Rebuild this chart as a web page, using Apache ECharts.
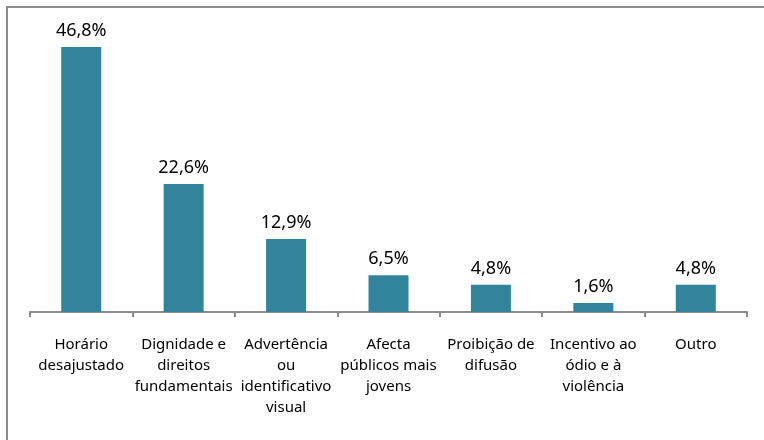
<!DOCTYPE html>
<html>
<head>
<meta charset="utf-8">
<script src="https://cdn.jsdelivr.net/npm/echarts@6/dist/echarts.min.js"></script>
<style>
  html, body { margin: 0; padding: 0; background: #fff; }
  #chart { width: 764px; height: 440px; }
</style>
</head>
<body>
<div id="chart"></div>
<script>
// categorias (quebras de linha como no original)
var categories = [
    'Horário\ndesajustado',
    'Dignidade e\ndireitos\nfundamentais',
    'Advertência\nou\nidentificativo\nvisual',
    'Afecta\npúblicos mais\njovens',
    'Proibição de\ndifusão',
    'Incentivo ao\nódio e à\nviolência',
    'Outro'
];
var values = [46.8, 22.6, 12.9, 6.5, 4.8, 1.6, 4.8];

var myChart = echarts.init(document.getElementById('chart'));
var option = {
    animation: false,
    graphic: [
        {
            type: 'rect',
            shape: { x: 7, y: 7, width: 800, height: 500 },
            style: { fill: 'none', stroke: '#8c8c8c', lineWidth: 2 },
            silent: true
        }
    ],
    grid: {
        left: 30,
        right: 17,
        top: 29,
        bottom: 128
    },
    xAxis: {
        type: 'category',
        data: categories,
        axisLine: { lineStyle: { color: '#8c8c8c', width: 2 } },
        axisTick: { show: true, length: 5, lineStyle: { color: '#8c8c8c', width: 2 } },
        axisLabel: {
            interval: 0,
            margin: 22,
            color: '#000',
            fontFamily: 'Noto Sans',
            fontSize: 15,
            lineHeight: 21
        }
    },
    yAxis: {
        type: 'value',
        min: 0,
        max: 50,
        show: false
    },
    series: [
        {
            type: 'bar',
            data: values,
            barWidth: 40,
            itemStyle: { color: '#31849b' },
            label: {
                show: true,
                position: 'top',
                distance: 7,
                color: '#000',
                fontFamily: 'Noto Sans',
                fontSize: 18,
                formatter: function (p) {
                    return p.value.toFixed(1).replace('.', ',') + '%';
                }
            }
        }
    ]
};
myChart.setOption(option);
</script>
</body>
</html>
